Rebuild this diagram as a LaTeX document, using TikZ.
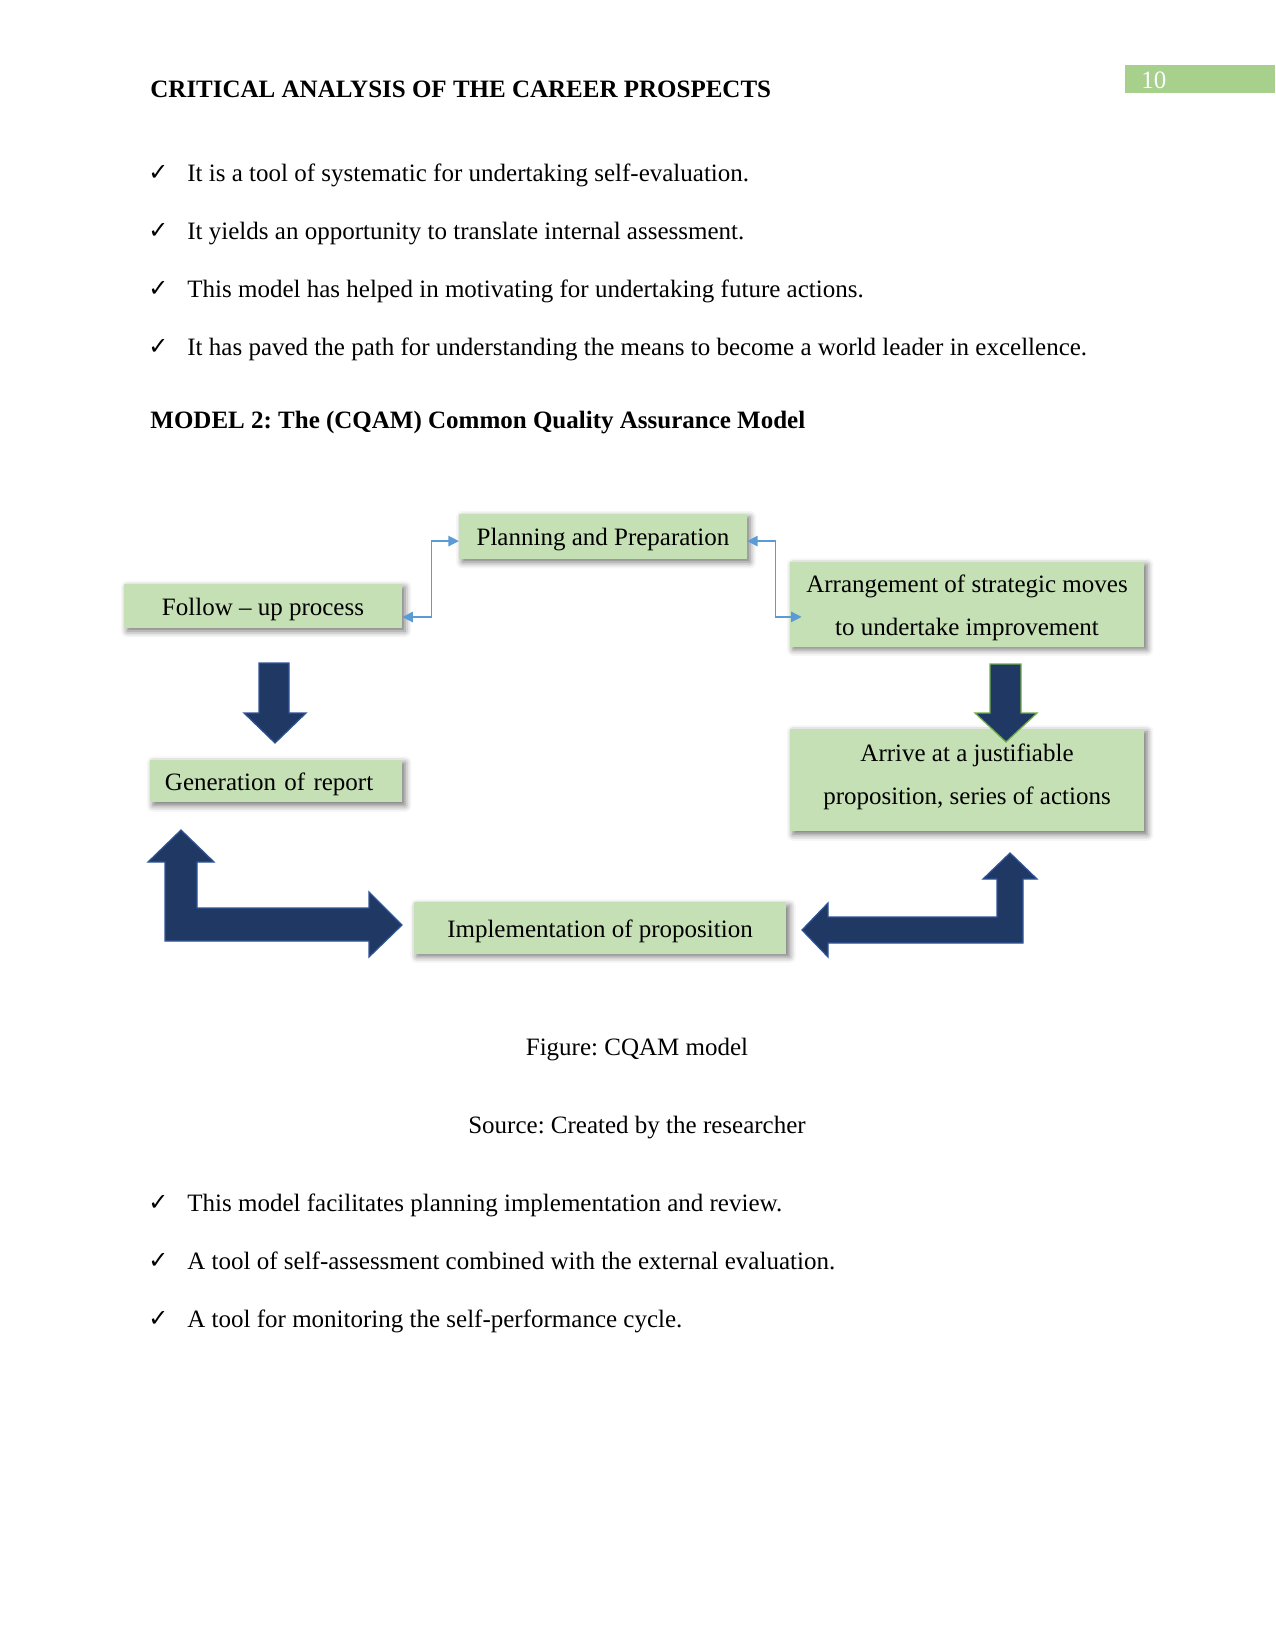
\documentclass[tikz,border=0pt]{standalone}
\usepackage{fontspec}
\setmainfont{Liberation Serif}
\newfontfamily\symfont{DejaVu Sans}
\frenchspacing
\usepackage{xcolor}
\definecolor{leaf}{RGB}{197,224,180}
\definecolor{pagegreen}{RGB}{168,208,141}
\definecolor{linkblue}{RGB}{91,155,213}
\definecolor{navy}{RGB}{31,56,100}
\definecolor{navyedge}{RGB}{47,85,151}
\definecolor{grassedge}{RGB}{112,173,71}
\usepackage{tikz}
\usetikzlibrary{arrows.meta,positioning,calc,shadows.blur}
\tikzset{
  %% green process boxes
  stage/.style={
    fill=leaf, draw=none, inner sep=0pt, align=center,
    font=\fontsize{12}{20.7}\selectfont,
    text height=8.9pt, text depth=0pt,
    blur shadow={shadow xshift=1.5pt, shadow yshift=-1.5pt,
                 shadow blur radius=3pt, shadow opacity=55},
  },
  %% thin elbow connectors
  link/.style={
    draw=linkblue, line width=0.6pt,
    {Triangle[length=5pt,width=5pt]}-{Triangle[length=5pt,width=5pt]},
  },
  %% block arrows
  block/.style={fill=navy, draw=navyedge, line width=0.6pt, line join=miter},
  %% page text
  bodytext/.style={anchor=base west, inner sep=0pt, font=\fontsize{12}{14}\selectfont},
  bulletmark/.style={anchor=base west, inner sep=0pt,
    font=\symfont\fontsize{11.5}{13}\selectfont},
}
\begin{document}
\begin{tikzpicture}[x=0.48pt,y=-0.48pt]
  \useasboundingbox (0,0) rectangle (1275,1650);
  %% running head
  \fill[pagegreen] (1125,65) rectangle (1275,93);
  \node[bodytext,text=white] (pagenum) at (1141,89) {10};
  \node[bodytext,font=\fontsize{12}{14}\selectfont\bfseries] (head) at (150,98)
    {CRITICAL ANALYSIS OF THE CAREER PROSPECTS};
  %% first list
  \node[bulletmark] (m1) at (148,181) {✓};
  \node[bodytext] (t1) at (187,182) {It is a tool of systematic for undertaking self-evaluation.};
  \node[bulletmark] (m2) at (148,239) {✓};
  \node[bodytext] (t2) at (187,240) {It yields an opportunity to translate internal assessment.};
  \node[bulletmark] (m3) at (148,297) {✓};
  \node[bodytext] (t3) at (187,298) {This model has helped in motivating for undertaking future actions.};
  \node[bulletmark] (m4) at (148,355) {✓};
  \node[bodytext] (t4) at (187,356) {It has paved the path for understanding the means to become a world leader in excellence.};
  \node[bodytext,font=\fontsize{12}{14}\selectfont\bfseries] (model) at (150,429)
    {MODEL 2: The (CQAM) Common Quality Assurance Model};
  %% process boxes
  \node[stage,minimum width=138pt,minimum height=21.6pt] (plan) at (603,536.5)
    {Planning and Preparation};
  \node[stage,minimum width=133.4pt,minimum height=21.1pt] (follow) at (263,606)
    {Follow -- up process};
  \node[stage,minimum width=170pt,minimum height=40.8pt,
        text height=30.6pt,text depth=0pt] (arrange) at (967,604)
    {Arrangement of strategic moves\\to undertake improvement};
  \node[stage,minimum width=121pt,minimum height=20.6pt,text width=106.6pt,
        inner xsep=7.2pt,align=left] (report) at (276,781)
    {Generation of report};
  \node[stage,minimum width=170pt,minimum height=49.4pt,
        text height=26.6pt,text depth=3pt] (arrive) at (967,780)
    {Arrive at a justifiable\\proposition, series of actions};
  \node[stage,minimum width=179pt,minimum height=24.5pt] (implement) at (600,928)
    {Implementation of proposition};
  %% elbow links
  \draw[link] ([yshift=-2.2pt]plan.west) -- ++(-27,0) |- ([yshift=-5.3pt]follow.east);
  \draw[link] ([yshift=-2.2pt]plan.east) -- ++(28,0) |- ([yshift=-6.2pt,xshift=5.8pt]arrange.west);
  %% block arrows
  \draw[block] (259,663) -- (289,663) -- (289,713) -- (306,713) -- (275,743)
    -- (244,713) -- (259,713) -- cycle;
  \draw[block,draw=grassedge] (990,664) -- (1021,664) -- (1021,713) -- (1037,713)
    -- (1006,742) -- (975,713) -- (990,713) -- cycle;
  \draw[block] (165,941) -- (165,862) -- (148,862) -- (181,830) -- (214,862)
    -- (197,862) -- (197,908) -- (369,908) -- (369,892) -- (402,925)
    -- (369,957) -- (369,941) -- cycle;
  \draw[block] (1023,943) -- (1023,879) -- (1037,879) -- (1010,853) -- (983,879)
    -- (997,879) -- (997,917) -- (828,917) -- (828,903) -- (802,930)
    -- (828,957) -- (828,943) -- cycle;
  %% caption
  \node[bodytext,anchor=base] (fig) at (637,1055) {Figure: CQAM model};
  \node[bodytext,anchor=base] (src) at (637,1133) {Source: Created by the researcher};
  %% second list
  \node[bulletmark] (m5) at (148,1210) {✓};
  \node[bodytext] (t5) at (187,1211) {This model facilitates planning implementation and review.};
  \node[bulletmark] (m6) at (148,1268) {✓};
  \node[bodytext] (t6) at (187,1269) {A tool of self-assessment combined with the external evaluation.};
  \node[bulletmark] (m7) at (148,1326) {✓};
  \node[bodytext] (t7) at (187,1327) {A tool for monitoring the self-performance cycle.};
\end{tikzpicture}
\end{document}
